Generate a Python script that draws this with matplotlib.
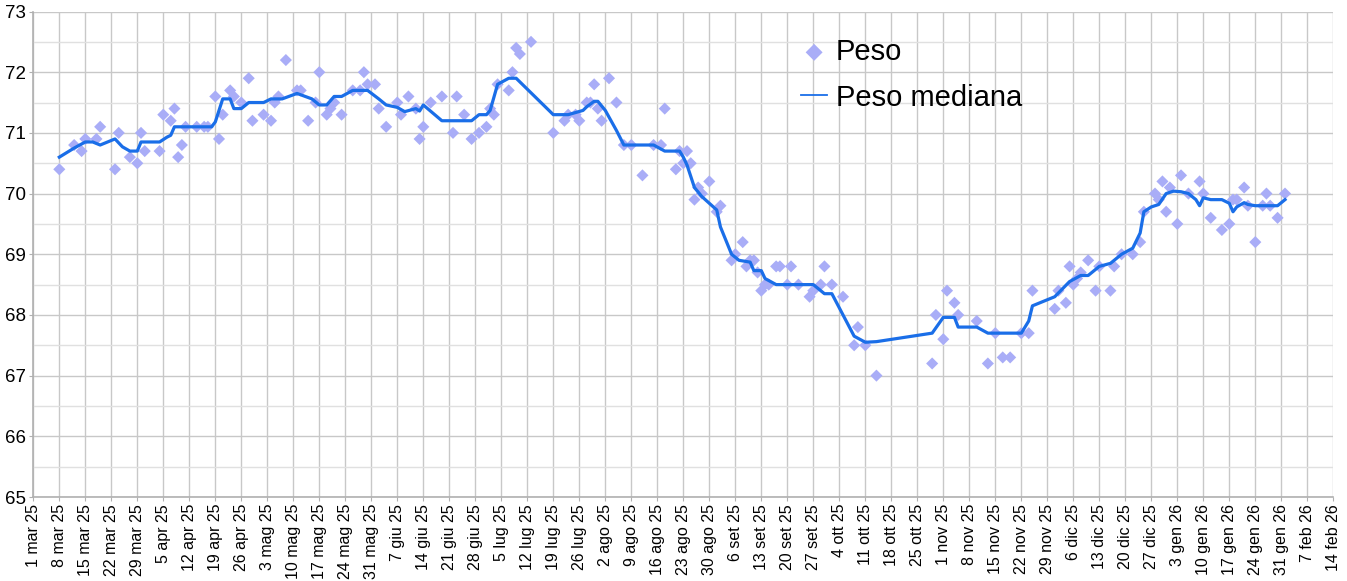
import matplotlib
matplotlib.use("Agg")
import matplotlib.pyplot as plt
import numpy as np

# ---------------- data ----------------
peso_dates = [
    "2025-03-08", "2025-03-12", "2025-03-14", "2025-03-15", "2025-03-18", "2025-03-19",
    "2025-03-23", "2025-03-24", "2025-03-27", "2025-03-29", "2025-03-30", "2025-03-31",
    "2025-04-04", "2025-04-05", "2025-04-07", "2025-04-08", "2025-04-09", "2025-04-10",
    "2025-04-11", "2025-04-14", "2025-04-16", "2025-04-17", "2025-04-19", "2025-04-20",
    "2025-04-21", "2025-04-23", "2025-04-24", "2025-04-26", "2025-04-28", "2025-04-29",
    "2025-05-02", "2025-05-04", "2025-05-05", "2025-05-06", "2025-05-08", "2025-05-11",
    "2025-05-12", "2025-05-14", "2025-05-16", "2025-05-17", "2025-05-19", "2025-05-20",
    "2025-05-21", "2025-05-23", "2025-05-26", "2025-05-28", "2025-05-29", "2025-05-30",
    "2025-06-01", "2025-06-02", "2025-06-04", "2025-06-07", "2025-06-08", "2025-06-10",
    "2025-06-12", "2025-06-13", "2025-06-14", "2025-06-16", "2025-06-19", "2025-06-22",
    "2025-06-23", "2025-06-25", "2025-06-27", "2025-06-29", "2025-07-01", "2025-07-02",
    "2025-07-03", "2025-07-04", "2025-07-07", "2025-07-08", "2025-07-09", "2025-07-10",
    "2025-07-13", "2025-07-19", "2025-07-22", "2025-07-23", "2025-07-25", "2025-07-26",
    "2025-07-28", "2025-07-29", "2025-07-30", "2025-07-31", "2025-08-01", "2025-08-03",
    "2025-08-05", "2025-08-07", "2025-08-09", "2025-08-12", "2025-08-15", "2025-08-17",
    "2025-08-18", "2025-08-21", "2025-08-22", "2025-08-23", "2025-08-24", "2025-08-25",
    "2025-08-26", "2025-08-27", "2025-08-28", "2025-08-30", "2025-09-01", "2025-09-02",
    "2025-09-05", "2025-09-06", "2025-09-08", "2025-09-09", "2025-09-10", "2025-09-11",
    "2025-09-12", "2025-09-13", "2025-09-14", "2025-09-15", "2025-09-17", "2025-09-18",
    "2025-09-20", "2025-09-21", "2025-09-23", "2025-09-26", "2025-09-27", "2025-09-29",
    "2025-09-30", "2025-10-02", "2025-10-05", "2025-10-08", "2025-10-09", "2025-10-11",
    "2025-10-14", "2025-10-29", "2025-10-30", "2025-11-01", "2025-11-02", "2025-11-04",
    "2025-11-05", "2025-11-10", "2025-11-13", "2025-11-15", "2025-11-17", "2025-11-19",
    "2025-11-22", "2025-11-24", "2025-11-25", "2025-12-01", "2025-12-02", "2025-12-04",
    "2025-12-05", "2025-12-06", "2025-12-07", "2025-12-08", "2025-12-10", "2025-12-12",
    "2025-12-13", "2025-12-16", "2025-12-17", "2025-12-19", "2025-12-22", "2025-12-24",
    "2025-12-25", "2025-12-28", "2025-12-29", "2025-12-30", "2025-12-31", "2026-01-01",
    "2026-01-03", "2026-01-04", "2026-01-06", "2026-01-09", "2026-01-10", "2026-01-12",
    "2026-01-15", "2026-01-17", "2026-01-18", "2026-01-19", "2026-01-21", "2026-01-22",
    "2026-01-24", "2026-01-26", "2026-01-27", "2026-01-28", "2026-01-30", "2026-02-01",
]
peso_values = [
    70.4, 70.8, 70.7, 70.9, 70.9, 71.1,
    70.4, 71.0, 70.6, 70.5, 71.0, 70.7,
    70.7, 71.3, 71.2, 71.4, 70.6, 70.8,
    71.1, 71.1, 71.1, 71.1, 71.6, 70.9,
    71.3, 71.7, 71.6, 71.5, 71.9, 71.2,
    71.3, 71.2, 71.5, 71.6, 72.2, 71.7,
    71.7, 71.2, 71.5, 72.0, 71.3, 71.4,
    71.5, 71.3, 71.7, 71.7, 72.0, 71.8,
    71.8, 71.4, 71.1, 71.5, 71.3, 71.6,
    71.4, 70.9, 71.1, 71.5, 71.6, 71.0,
    71.6, 71.3, 70.9, 71.0, 71.1, 71.4,
    71.3, 71.8, 71.7, 72.0, 72.4, 72.3,
    72.5, 71.0, 71.2, 71.3, 71.3, 71.2,
    71.5, 71.5, 71.8, 71.4, 71.2, 71.9,
    71.5, 70.8, 70.8, 70.3, 70.8, 70.8,
    71.4, 70.4, 70.7, 70.5, 70.7, 70.5,
    69.9, 70.1, 70.0, 70.2, 69.7, 69.8,
    68.9, 69.0, 69.2, 68.8, 68.9, 68.9,
    68.7, 68.4, 68.5, 68.5, 68.8, 68.8,
    68.5, 68.8, 68.5, 68.3, 68.4, 68.5,
    68.8, 68.5, 68.3, 67.5, 67.8, 67.5,
    67.0, 67.2, 68.0, 67.6, 68.4, 68.2,
    68.0, 67.9, 67.2, 67.7, 67.3, 67.3,
    67.7, 67.7, 68.4, 68.1, 68.4, 68.2,
    68.8, 68.5, 68.6, 68.7, 68.9, 68.4,
    68.8, 68.4, 68.8, 69.0, 69.0, 69.2,
    69.7, 70.0, 69.9, 70.2, 69.7, 70.1,
    69.5, 70.3, 70.0, 70.2, 70.0, 69.6,
    69.4, 69.5, 69.9, 69.9, 70.1, 69.8,
    69.2, 69.8, 70.0, 69.8, 69.6, 70.0,
]

mediana_dates = [
    "2025-03-08", "2025-03-12", "2025-03-15", "2025-03-17", "2025-03-19", "2025-03-23",
    "2025-03-25", "2025-03-27", "2025-03-29", "2025-03-30", "2025-04-04", "2025-04-06",
    "2025-04-07", "2025-04-08", "2025-04-18", "2025-04-19", "2025-04-21", "2025-04-23",
    "2025-04-24", "2025-04-26", "2025-04-28", "2025-05-02", "2025-05-04", "2025-05-07",
    "2025-05-11", "2025-05-15", "2025-05-17", "2025-05-19", "2025-05-21", "2025-05-23",
    "2025-05-26", "2025-05-30", "2025-06-02", "2025-06-04", "2025-06-07", "2025-06-09",
    "2025-06-12", "2025-06-13", "2025-06-14", "2025-06-19", "2025-06-27", "2025-06-29",
    "2025-07-01", "2025-07-02", "2025-07-04", "2025-07-07", "2025-07-09", "2025-07-19",
    "2025-07-23", "2025-07-27", "2025-07-28", "2025-07-30", "2025-07-31", "2025-08-02",
    "2025-08-05", "2025-08-07", "2025-08-15", "2025-08-18", "2025-08-22", "2025-08-23",
    "2025-08-24", "2025-08-26", "2025-08-28", "2025-09-01", "2025-09-02", "2025-09-05",
    "2025-09-07", "2025-09-10", "2025-09-11", "2025-09-13", "2025-09-14", "2025-09-17",
    "2025-09-27", "2025-09-30", "2025-10-02", "2025-10-05", "2025-10-08", "2025-10-11",
    "2025-10-14", "2025-10-29", "2025-11-01", "2025-11-04", "2025-11-05", "2025-11-10",
    "2025-11-13", "2025-11-22", "2025-11-24", "2025-11-25", "2025-12-01", "2025-12-05",
    "2025-12-08", "2025-12-10", "2025-12-13", "2025-12-16", "2025-12-19", "2025-12-22",
    "2025-12-24", "2025-12-25", "2025-12-27", "2025-12-29", "2025-12-31", "2026-01-02",
    "2026-01-04", "2026-01-06", "2026-01-08", "2026-01-09", "2026-01-10", "2026-01-12",
    "2026-01-15", "2026-01-17", "2026-01-18", "2026-01-19", "2026-01-21", "2026-01-22",
    "2026-01-24", "2026-01-30", "2026-02-01",
]
mediana_values = [
    70.60, 70.75, 70.85, 70.85, 70.80, 70.90,
    70.77, 70.70, 70.70, 70.85, 70.85, 70.93,
    70.96, 71.10, 71.10, 71.18, 71.56, 71.56,
    71.40, 71.40, 71.50, 71.50, 71.56, 71.56,
    71.65, 71.56, 71.46, 71.46, 71.60, 71.60,
    71.70, 71.70, 71.56, 71.46, 71.42, 71.35,
    71.40, 71.36, 71.46, 71.20, 71.20, 71.30,
    71.30, 71.37, 71.80, 71.90, 71.90, 71.30,
    71.30, 71.37, 71.43, 71.52, 71.52, 71.37,
    71.04, 70.80, 70.80, 70.70, 70.70, 70.60,
    70.47, 70.10, 69.95, 69.73, 69.45, 69.00,
    68.90, 68.87, 68.73, 68.73, 68.60, 68.50,
    68.50, 68.35, 68.35, 68.00, 67.65, 67.55,
    67.56, 67.70, 67.96, 67.96, 67.80, 67.80,
    67.70, 67.70, 67.90, 68.15, 68.30, 68.55,
    68.65, 68.65, 68.80, 68.85, 69.00, 69.10,
    69.35, 69.70, 69.78, 69.82, 70.00, 70.04,
    70.03, 70.00, 69.90, 69.80, 69.93, 69.90,
    69.90, 69.84, 69.70, 69.78, 69.85, 69.82,
    69.80, 69.80, 69.90,
]

mesi = ["gen", "feb", "mar", "apr", "mag", "giu", "lug", "ago", "set", "ott", "nov", "dic"]
x_start = "2025-03-01"
x_end = "2026-02-14"
y_min, y_max = 65, 73

# ---------------- plot ----------------
plt.rcParams["font.family"] = ["Liberation Sans", "DejaVu Sans"]

pd_x = np.array(peso_dates, dtype="datetime64[D]")
md_x = np.array(mediana_dates, dtype="datetime64[D]")
x0 = np.datetime64(x_start)
x1 = np.datetime64(x_end)

W, H = 1347, 581
fig = plt.figure(figsize=(W / 100, H / 100), dpi=100)
ax = fig.add_axes([33.3 / W, 1 - 497 / H, (1333.3 - 33.3) / W, (497 - 11.5) / H])

ax.set_xlim(x0, x1)
ax.set_ylim(y_min, y_max)

# weekly ticks
ticks = np.arange(x0, x1 + np.timedelta64(1, "D"), np.timedelta64(7, "D"))
ax.set_xticks(ticks)
labels = []
for t in ticks:
    d = t.astype(object)
    labels.append(f"{d.day} {mesi[d.month - 1]} {d.year % 100:02d}")
ax.set_xticklabels(labels, rotation=90, fontsize=11.5)

ax.set_yticks(np.arange(y_min, y_max + 1, 1))
ax.set_yticks(np.arange(y_min + 0.5, y_max, 1), minor=True)
ax.tick_params(axis="y", which="major", labelsize=13.5, length=3, color="#b0b0b0", pad=2)
ax.tick_params(axis="y", which="minor", length=0)
ax.tick_params(axis="x", length=3, color="#b0b0b0", pad=2)

ax.grid(True, which="major", axis="both", color="#c8c8c8", linewidth=1.0)
ax.grid(True, which="minor", axis="y", color="#e0e0e0", linewidth=1.0)
ax.set_axisbelow(True)
for side in ["top", "right"]:
    ax.spines[side].set_visible(False)
for side in ["left", "bottom"]:
    ax.spines[side].set_color("#b0b0b0")
    ax.spines[side].set_linewidth(1.2)

ax.scatter(pd_x, peso_values, marker="D", s=38, color="#a9adf7", edgecolors="none",
           zorder=2, label="Peso")
ax.plot(md_x, mediana_values, color="#1a6ee8", linewidth=2.3, zorder=3,
        solid_joinstyle="round", label="Peso mediana")

handles, labs = ax.get_legend_handles_labels()
leg = ax.legend(handles, labs, loc="upper left", bbox_to_anchor=(801 / W, 1 - 38 / H),
                bbox_transform=fig.transFigure, frameon=False, fontsize=21,
                handlelength=0.9, handletextpad=0.3, labelspacing=0.6, borderpad=0,
                borderaxespad=0, markerscale=1.4)
for lh in leg.get_lines():
    lh.set_linewidth(1.3)

fig.savefig("out.png", dpi=100)
